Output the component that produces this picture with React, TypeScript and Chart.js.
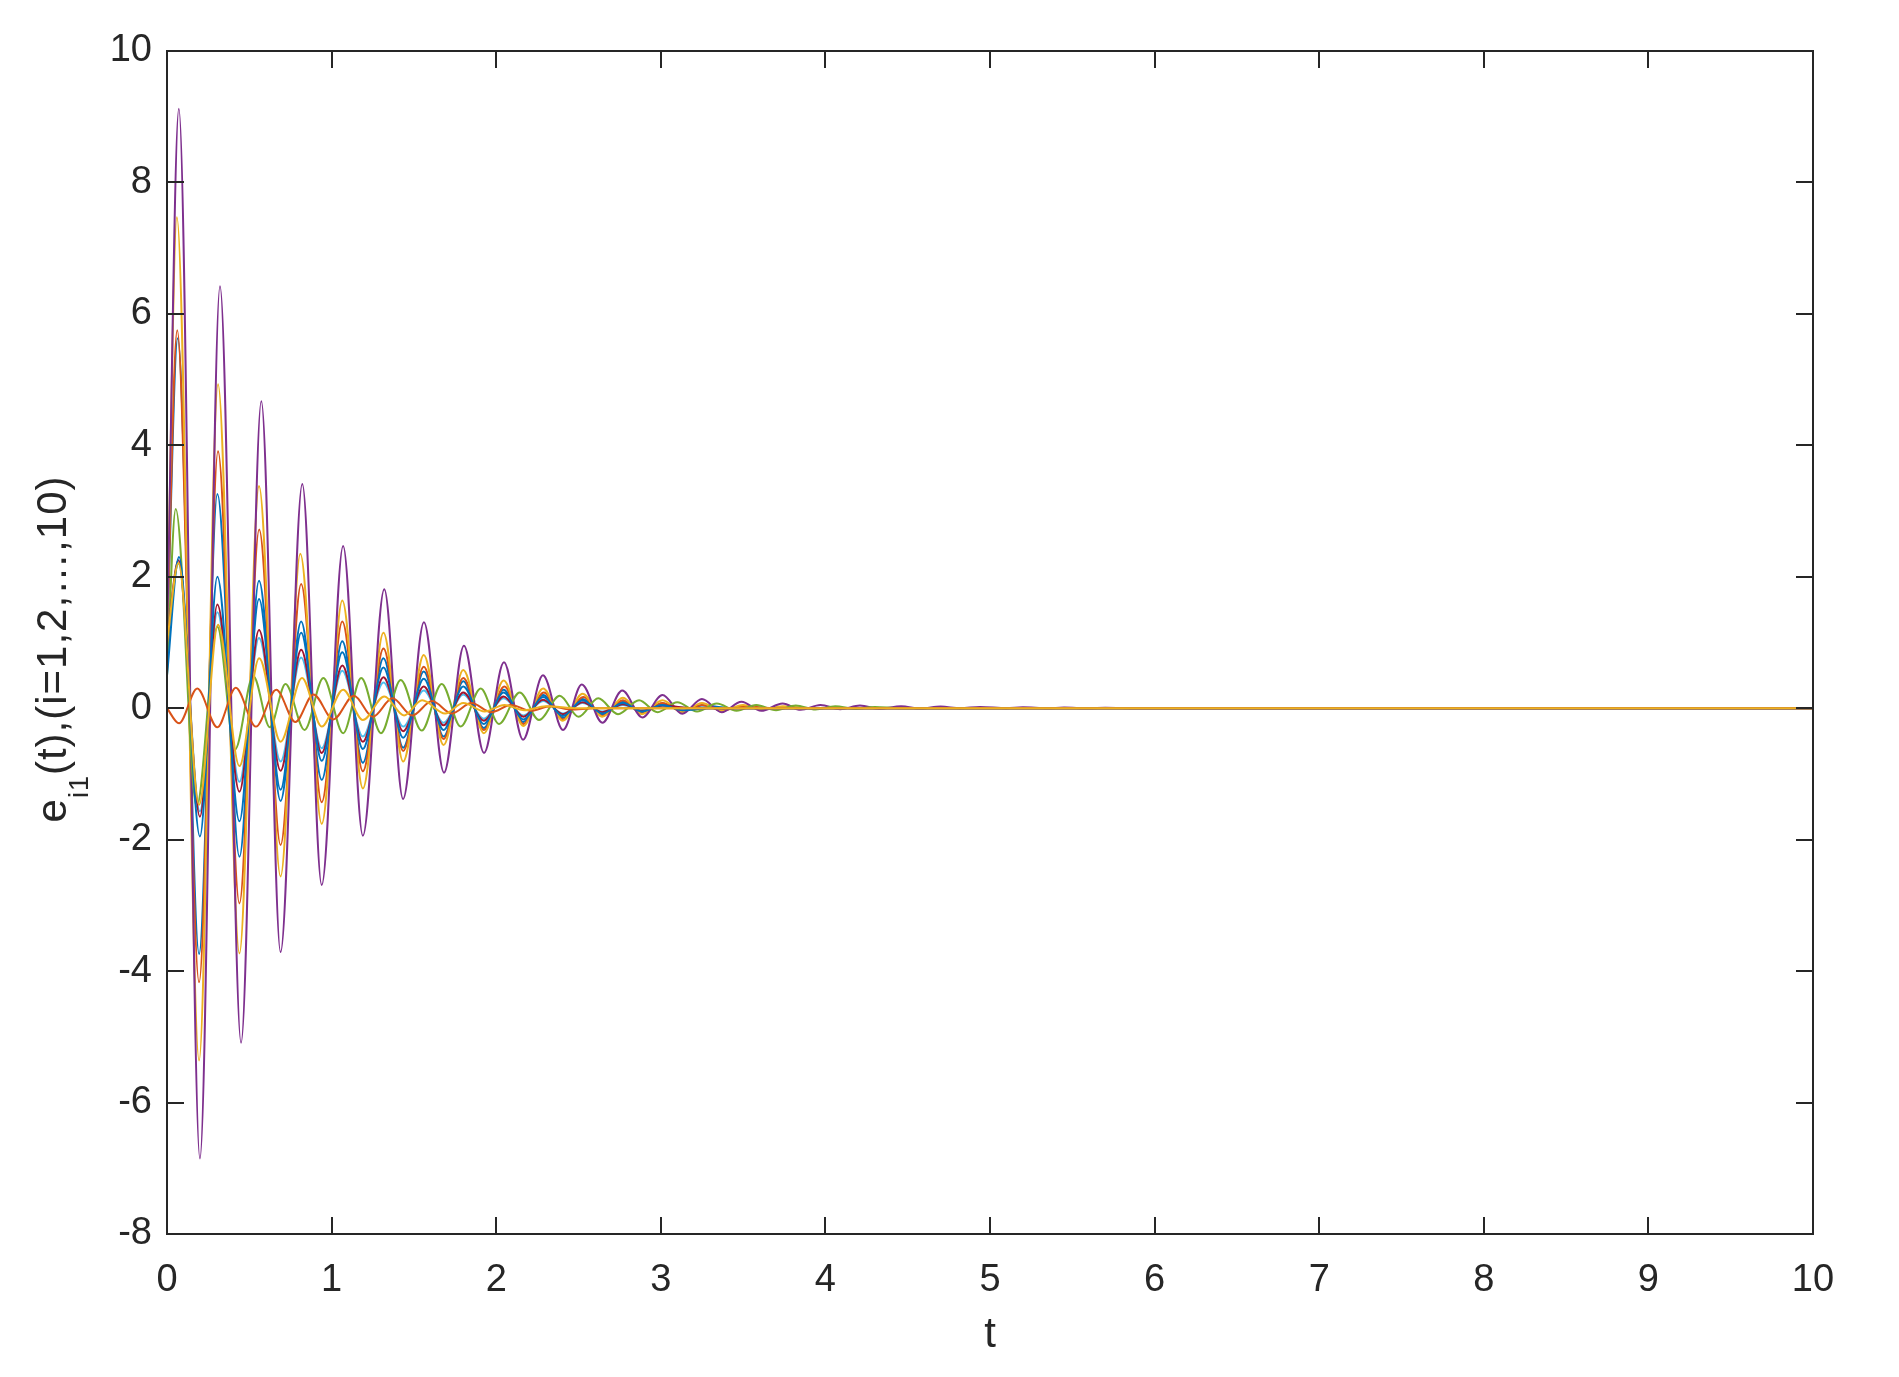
import React, { useEffect, useRef } from "react";
import { Chart, registerables } from "chart.js";

Chart.register(...registerables);

const W = 1899;
const H = 1377;
const FONT = '"Liberation Sans", Arial, Helvetica, sans-serif';
const INK = "#262626";

const xTickStep = 1;
const yTickStep = 2;
const xRange = [0, 10];
const yRange = [-8, 10];
const xLabel = "t";
const yLabelMain = "e";
const yLabelSub = "i1";
const yLabelRest = "(t),(i=1,2,\u2026,10)";

// [t, value] extremes, per series
const s1Blue: [number, number][] = [
  [0, 1.0], [0.065, 5.63], [0.195, -3.74], [0.306, 3.26], [0.44, -2.26], [0.559, 1.94],
  [0.69, -1.41], [0.815, 1.32], [0.94, -1.09], [1.065, 1.02], [1.19, -0.83], [1.315, 0.76],
  [1.435, -0.6], [1.56, 0.56], [1.68, -0.43], [1.8, 0.41], [1.925, -0.3], [2.045, 0.28],
  [2.165, -0.21], [2.285, 0.2], [2.405, -0.15], [2.525, 0.14], [2.645, -0.1], [2.77, 0.1],
  [2.885, -0.07], [3.01, 0.07], [3.13, -0.04], [3.25, 0.04], [3.45, 0], [10, 0],
];
const s2Orange: [number, number][] = [
  [0, 1.0], [0.062, 5.75], [0.195, -4.17], [0.31, 3.91], [0.44, -2.97], [0.56, 2.72],
  [0.69, -2.08], [0.815, 1.89], [0.94, -1.43], [1.065, 1.32], [1.19, -0.96], [1.315, 0.91],
  [1.435, -0.65], [1.56, 0.63], [1.68, -0.47], [1.8, 0.46], [1.925, -0.33], [2.05, 0.33],
  [2.165, -0.24], [2.29, 0.24], [2.405, -0.17], [2.53, 0.17], [2.645, -0.12], [2.77, 0.12],
  [2.885, -0.08], [3.01, 0.08], [3.13, -0.05], [3.25, 0.05], [3.37, -0.03], [3.5, 0.03],
  [3.7, 0], [10, 0],
];
const s3Yellow: [number, number][] = [
  [0, 1.0], [0.06, 7.47], [0.195, -5.36], [0.31, 4.93], [0.44, -3.73], [0.559, 3.38],
  [0.69, -2.56], [0.81, 2.35], [0.94, -1.76], [1.065, 1.64], [1.19, -1.22], [1.315, 1.15],
  [1.435, -0.81], [1.56, 0.81], [1.68, -0.56], [1.8, 0.58], [1.925, -0.38], [2.045, 0.42],
  [2.165, -0.27], [2.285, 0.3], [2.405, -0.19], [2.525, 0.22], [2.645, -0.13], [2.77, 0.16],
  [2.885, -0.09], [3.01, 0.12], [3.13, -0.06], [3.25, 0.08], [3.37, -0.04], [3.5, 0.05],
  [3.62, -0.02], [3.74, 0.03], [3.92, 0], [10, 0],
];
const s4Purple: [number, number][] = [
  [0, 1.0], [0.072, 9.12], [0.2, -6.85], [0.322, 6.42], [0.45, -5.09], [0.573, 4.67],
  [0.69, -3.71], [0.822, 3.41], [0.94, -2.69], [1.07, 2.47], [1.19, -1.94], [1.32, 1.81],
  [1.434, -1.38], [1.561, 1.31], [1.683, -0.98], [1.804, 0.95], [1.926, -0.68], [2.047, 0.7],
  [2.163, -0.48], [2.284, 0.5], [2.406, -0.33], [2.52, 0.36], [2.645, -0.22], [2.766, 0.27],
  [2.888, -0.14], [3.01, 0.2], [3.13, -0.085], [3.25, 0.14], [3.37, -0.06], [3.49, 0.1],
  [3.61, -0.04], [3.74, 0.07], [3.85, -0.025], [3.97, 0.05], [4.09, -0.015], [4.21, 0.04],
  [4.33, -0.01], [4.46, 0.03], [4.58, -0.005], [4.7, 0.025], [4.82, 0], [4.94, 0.02],
  [5.1, 0], [5.2, 0.015], [5.35, 0], [5.45, 0.01], [5.6, 0], [5.7, 0.008], [5.9, 0], [10, 0],
];
const s5Green: [number, number][] = [
  [0, 0.5], [0.053, 3.03], [0.18, -1.5], [0.306, 1.24], [0.413, -0.63], [0.524, 0.49],
  [0.625, -0.29], [0.72, 0.37], [0.836, -0.33], [0.95, 0.46], [1.07, -0.38], [1.18, 0.46],
  [1.3, -0.38], [1.42, 0.43], [1.547, -0.34], [1.669, 0.37], [1.784, -0.28], [1.906, 0.3],
  [2.017, -0.24], [2.143, 0.24], [2.26, -0.18], [2.386, 0.19], [2.5, -0.13], [2.62, 0.15],
  [2.74, -0.09], [2.868, 0.12], [2.98, -0.06], [3.1, 0.09], [3.22, -0.05], [3.34, 0.07],
  [3.46, -0.04], [3.58, 0.05], [3.7, -0.03], [3.82, 0.04], [3.94, -0.02], [4.06, 0.03],
  [4.18, -0.01], [4.3, 0.02], [4.45, 0], [10, 0],
];
const s6LightBlue: [number, number][] = [
  [0, 1.0], [0.07, 2.2], [0.2, -1.57], [0.306, 1.46], [0.44, -1.12], [0.559, 1.07],
  [0.69, -0.81], [0.815, 0.77], [0.94, -0.61], [1.065, 0.57], [1.19, -0.43], [1.315, 0.39],
  [1.435, -0.28], [1.56, 0.27], [1.68, -0.22], [1.8, 0.21], [1.925, -0.16], [2.045, 0.15],
  [2.165, -0.11], [2.285, 0.11], [2.405, -0.08], [2.525, 0.08], [2.645, -0.05], [2.77, 0.05],
  [2.885, -0.03], [3.01, 0.03], [3.2, 0], [10, 0],
];
const s7DarkRed: [number, number][] = [
  [0, 1.0], [0.07, 2.25], [0.2, -1.65], [0.306, 1.58], [0.44, -1.27], [0.559, 1.19],
  [0.69, -0.95], [0.815, 0.89], [0.94, -0.68], [1.065, 0.65], [1.19, -0.51], [1.315, 0.47],
  [1.435, -0.35], [1.56, 0.33], [1.68, -0.26], [1.8, 0.24], [1.925, -0.19], [2.045, 0.18],
  [2.165, -0.13], [2.285, 0.13], [2.405, -0.09], [2.525, 0.09], [2.645, -0.06], [2.77, 0.06],
  [2.885, -0.04], [3.01, 0.04], [3.2, 0], [10, 0],
];
const s8Blue: [number, number][] = [
  [0, 0.5], [0.073, 2.3], [0.2, -1.95], [0.306, 2.0], [0.44, -1.72], [0.559, 1.66],
  [0.69, -1.24], [0.815, 1.15], [0.94, -0.8], [1.065, 0.85], [1.19, -0.62], [1.315, 0.62],
  [1.435, -0.45], [1.56, 0.45], [1.68, -0.33], [1.8, 0.33], [1.925, -0.24], [2.045, 0.24],
  [2.165, -0.17], [2.285, 0.17], [2.405, -0.12], [2.525, 0.12], [2.645, -0.08], [2.77, 0.08],
  [2.885, -0.05], [3.01, 0.05], [3.13, -0.03], [3.3, 0], [10, 0],
];
const s9Orange: [number, number][] = [
  [0, 0], [0.073, -0.23], [0.184, 0.3], [0.306, -0.29], [0.418, 0.31], [0.54, -0.28],
  [0.664, 0.28], [0.78, -0.21], [0.89, 0.21], [1.01, -0.17], [1.136, 0.19], [1.25, -0.13],
  [1.37, 0.15], [1.49, -0.11], [1.61, 0.11], [1.73, -0.08], [1.85, 0.08], [1.97, -0.06],
  [2.09, 0.05], [2.21, -0.04], [2.33, 0.03], [2.45, -0.02], [2.6, 0], [10, 0],
];
const s10Yellow: [number, number][] = [
  [0, 1.0], [0.07, 2.21], [0.195, -1.47], [0.31, 1.27], [0.44, -0.88], [0.56, 0.76],
  [0.69, -0.51], [0.82, 0.46], [0.94, -0.28], [1.07, 0.28], [1.19, -0.18], [1.32, 0.18],
  [1.44, -0.11], [1.55, 0.12], [1.69, -0.08], [1.8, 0.08], [1.93, -0.05], [2.05, 0.05],
  [2.17, -0.03], [2.3, 0.03], [2.5, 0], [10, 0],
];

const seriesData = [
  s1Blue, s2Orange, s3Yellow, s4Purple, s5Green,
  s6LightBlue, s7DarkRed, s8Blue, s9Orange, s10Yellow,
];
const seriesColors = [
  "#0072BD", "#D95319", "#EDB120", "#7E2F8E", "#77AC30",
  "#4DBEEE", "#A2142F", "#0072BD", "#D95319", "#EDB120",
];

const framePlugin = {
  id: "matlabFrame",
  afterDatasetsDraw(chart: any) {
    const { ctx, chartArea: a, scales } = chart;
    const xs = scales.x;
    const ys = scales.y;
    ctx.save();
    ctx.strokeStyle = INK;
    ctx.lineWidth = 2;
    ctx.beginPath();
    ctx.rect(a.left, a.top, a.right - a.left, a.bottom - a.top);
    const tl = 17;
    xs.ticks.forEach((t: any) => {
      const px = Math.round(xs.getPixelForValue(t.value));
      ctx.moveTo(px, a.bottom);
      ctx.lineTo(px, a.bottom - tl);
      ctx.moveTo(px, a.top);
      ctx.lineTo(px, a.top + tl);
    });
    ys.ticks.forEach((t: any) => {
      const py = Math.round(ys.getPixelForValue(t.value));
      ctx.moveTo(a.left, py);
      ctx.lineTo(a.left + tl, py);
      ctx.moveTo(a.right, py);
      ctx.lineTo(a.right - tl, py);
    });
    ctx.stroke();

    // x title
    ctx.fillStyle = INK;
    ctx.font = `42px ${FONT}`;
    ctx.textAlign = "center";
    ctx.textBaseline = "alphabetic";
    ctx.fillText(xLabel, (a.left + a.right) / 2, 1347);

    // y title with subscript
    ctx.translate(66, 649);
    ctx.rotate(-Math.PI / 2);
    ctx.textAlign = "left";
    try {
      (ctx as any).letterSpacing = "1px";
    } catch (e) {
      /* ignore */
    }
    ctx.font = `42px ${FONT}`;
    const wE = ctx.measureText(yLabelMain).width;
    const wR = ctx.measureText(yLabelRest).width;
    ctx.font = `27px ${FONT}`;
    const wS = ctx.measureText(yLabelSub).width;
    let x = -(wE + wS + wR) / 2;
    ctx.font = `42px ${FONT}`;
    ctx.fillText(yLabelMain, x, 0);
    x += wE;
    ctx.font = `27px ${FONT}`;
    ctx.fillText(yLabelSub, x, 22);
    x += wS;
    ctx.font = `42px ${FONT}`;
    ctx.fillText(yLabelRest, x, 0);
    ctx.restore();
  },
};

export default function App() {
  const ref = useRef<HTMLCanvasElement | null>(null);

  useEffect(() => {
    document.body.style.margin = "0";
    const canvas = ref.current;
    if (!canvas) return;
    const chart = new Chart(canvas, {
      type: "line",
      data: {
        datasets: seriesData.map((s, i) => ({
          label: `e${i + 1}1`,
          data: s.map(([t, v]) => ({ x: t, y: v })),
          borderColor: seriesColors[i],
          backgroundColor: seriesColors[i],
          borderWidth: 2,
          pointRadius: 0,
          fill: false,
          cubicInterpolationMode: "monotone" as const,
          order: seriesData.length - 1 - i,
        })),
      },
      options: {
        responsive: false,
        animation: false,
        devicePixelRatio: 1,
        layout: { padding: { top: 51, right: 86, left: 0, bottom: 0 } },
        plugins: {
          legend: { display: false },
          tooltip: { enabled: false },
          title: { display: false },
        },
        scales: {
          x: {
            type: "linear",
            min: xRange[0],
            max: xRange[1],
            ticks: {
              stepSize: xTickStep,
              color: INK,
              font: { family: FONT, size: 38 },
              padding: 24,
              maxRotation: 0,
            },
            grid: { display: false, drawTicks: false },
            border: { display: false },
            afterFit: (scale: any) => {
              scale.height = 143;
            },
          },
          y: {
            type: "linear",
            min: yRange[0],
            max: yRange[1],
            ticks: {
              stepSize: yTickStep,
              color: INK,
              font: { family: FONT, size: 38 },
              padding: 15,
            },
            grid: { display: false, drawTicks: false },
            border: { display: false },
            afterFit: (scale: any) => {
              scale.width = 167;
            },
          },
        },
      },
      plugins: [framePlugin],
    });
    return () => chart.destroy();
  }, []);

  return (
    <div
      style={{
        position: "absolute",
        left: 0,
        top: 0,
        width: W,
        height: H,
        background: "#ffffff",
      }}
    >
      <canvas ref={ref} width={W} height={H} style={{ width: W, height: H, display: "block" }} />
    </div>
  );
}
